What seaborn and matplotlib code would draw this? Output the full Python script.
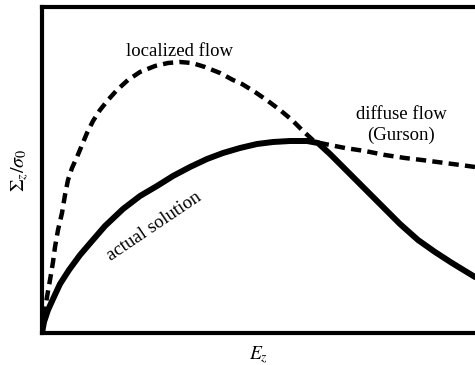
import matplotlib
matplotlib.use("Agg")
import matplotlib.pyplot as plt
import seaborn as sns
import pandas as pd

# Axial stress vs axial strain: actual response and the two limit-load branches
strain_actual = [0, 0.02, 0.06, 0.11, 0.18, 0.27, 0.38, 0.50, 0.63, 0.81, 0.98, 1.15,
                 1.31, 1.48, 1.65, 1.81, 1.98, 2.15, 2.31, 2.48, 2.65, 2.76, 2.88,
                 3.03, 3.15, 3.28, 3.43, 3.58, 3.76, 3.93, 4.10, 4.33]
stress_actual = [0, 0.11, 0.23, 0.34, 0.49, 0.63, 0.78, 0.92, 1.07, 1.24, 1.37, 1.47,
                 1.57, 1.66, 1.74, 1.80, 1.85, 1.89, 1.91, 1.92, 1.92, 1.90, 1.79,
                 1.64, 1.52, 1.39, 1.24, 1.09, 0.93, 0.81, 0.70, 0.56]

strain_limit = [0, 0.01, 0.03, 0.05, 0.08, 0.11, 0.13, 0.16, 0.20, 0.23, 0.26, 0.30,
                0.35, 0.40, 0.45, 0.51, 0.58, 0.66, 0.75, 0.86, 0.98, 1.13, 1.26,
                1.38, 1.50, 1.63, 1.78, 1.91, 2.00, 2.13, 2.26, 2.38, 2.50, 2.61,
                2.73, 2.88, 3.03, 3.23, 3.43, 3.63, 3.80, 4.03, 4.26, 4.33]
stress_limit = [0, 0.10, 0.23, 0.36, 0.53, 0.71, 0.86, 1.03, 1.20, 1.38, 1.53, 1.65,
                1.76, 1.88, 2.00, 2.12, 2.23, 2.33, 2.43, 2.53, 2.61, 2.67, 2.70,
                2.71, 2.70, 2.66, 2.60, 2.53, 2.49, 2.41, 2.32, 2.23, 2.13, 2.02,
                1.91, 1.88, 1.85, 1.82, 1.78, 1.75, 1.73, 1.70, 1.67, 1.66]

labels = {"localized": "localized flow",
          "diffuse": "diffuse flow\n(Gurson)",
          "actual": "actual solution"}

sns.set_theme(style="white")
plt.rcParams["font.family"] = ["Liberation Serif", "DejaVu Serif"]
plt.rcParams["mathtext.fontset"] = "stix"
plt.rcParams["text.color"] = "black"
plt.rcParams["axes.labelcolor"] = "black"

fig = plt.figure(figsize=(4.75, 3.65), dpi=100)
ax = fig.add_axes([42 / 475, 32 / 365, 1 - 42 / 475, 326 / 365])

actual = pd.DataFrame({"E": strain_actual, "S": stress_actual})
limit = pd.DataFrame({"E": strain_limit, "S": stress_limit})

sns.lineplot(data=limit, x="E", y="S", sort=False, ax=ax, color="black",
             lw=3.2, linestyle=(0, (2.3, 1.4)), solid_capstyle="butt")
sns.lineplot(data=actual, x="E", y="S", sort=False, ax=ax, color="black",
             lw=4.3, solid_joinstyle="round")

ax.set_xlim(0, 4.33)
ax.set_ylim(0, 3.26)
ax.set_xticks([])
ax.set_yticks([])

for side in ("left", "bottom", "top"):
    ax.spines[side].set_visible(True)
    ax.spines[side].set_color("black")
    ax.spines[side].set_linewidth(3.0)
ax.spines["right"].set_visible(False)

ax.set_xlabel(r"$E_z$", fontsize=14, labelpad=8)
ax.set_ylabel(r"$\Sigma_z/\sigma_0$", fontsize=14.5, labelpad=8)

ax.text(1.37, 2.82, labels["localized"], fontsize=13.5, ha="center", va="center")
ax.text(3.59, 2.08, labels["diffuse"], fontsize=13.5, ha="center", va="center",
        linespacing=1.25)
ax.text(1.12, 1.07, labels["actual"], fontsize=13.5, ha="center", va="center",
        rotation=34, rotation_mode="anchor")

fig.savefig("out.png", dpi=100)
